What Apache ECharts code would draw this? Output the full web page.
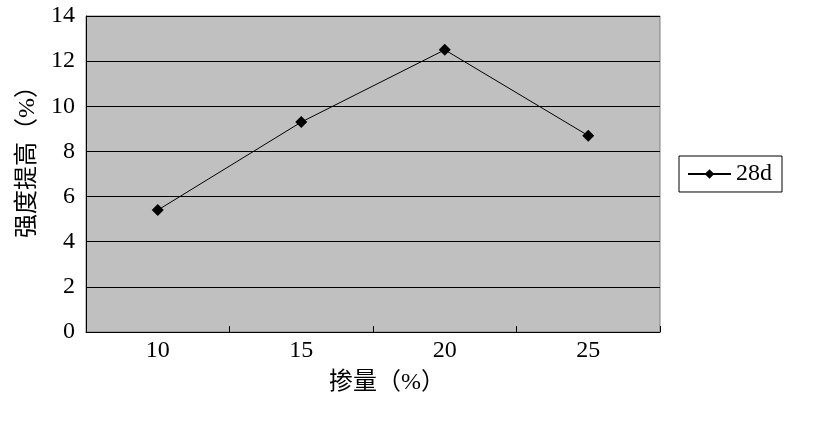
<!DOCTYPE html>
<html>
<head>
<meta charset="utf-8">
<script src="https://cdn.jsdelivr.net/npm/echarts@6/dist/echarts.min.js"></script>
<style>
html,body{margin:0;padding:0;background:#fff;}
#chart{width:819px;height:421px;}
</style>
</head>
<body>
<div id="chart"></div>
<script>
var categories = ['10', '15', '20', '25'];
var series28d = [5.4, 9.3, 12.5, 8.7];
var seriesName = '28d';
var xAxisName = '掺量（%）';
var yAxisName = '强度提高（%）';

var FONT = '"Liberation Serif", "Noto Sans CJK SC", serif';
var chart = echarts.init(document.getElementById('chart'));
chart.setOption({
  animation: false,
  backgroundColor: '#ffffff',
  grid: {
    left: 86, right: 159, top: 16, bottom: 89,
    show: true, backgroundColor: '#c0c0c0', borderColor: '#808080', borderWidth: 1
  },
  legend: {
    data: [seriesName],
    right: 37, top: 156,
    orient: 'vertical',
    borderColor: '#000', borderWidth: 1,
    padding: [6, 10, 6, 8],
    itemWidth: 43, itemHeight: 12, itemGap: 0,
    textStyle: { fontFamily: FONT, fontSize: 24, color: '#000' }
  },
  xAxis: {
    type: 'category',
    data: categories,
    boundaryGap: true,
    name: xAxisName,
    nameLocation: 'middle',
    nameGap: 39,
    nameTextStyle: { fontFamily: FONT, fontSize: 24, color: '#000', padding: [0, 0, 0, 28] },
    axisLine: { lineStyle: { color: '#000', width: 1 } },
    axisTick: { show: true, inside: true, length: 6, lineStyle: { color: '#000' } },
    axisLabel: { fontFamily: FONT, fontSize: 24, color: '#000', margin: 7 },
    splitLine: { show: false }
  },
  yAxis: {
    type: 'value',
    min: 0, max: 14, interval: 2,
    name: yAxisName,
    nameLocation: 'middle',
    nameGap: 46,
    nameRotate: 90,
    nameTextStyle: { fontFamily: FONT, fontSize: 24, color: '#000', padding: [0, 0, 0, 36] },
    axisLine: { show: true, lineStyle: { color: '#000', width: 1 } },
    axisTick: { show: false },
    axisLabel: { fontFamily: FONT, fontSize: 24, color: '#000', margin: 11 },
    splitLine: { show: true, lineStyle: { color: '#000', width: 1 } }
  },
  series: [{
    name: seriesName,
    type: 'line',
    data: series28d,
    symbol: 'diamond',
    symbolSize: 12,
    itemStyle: { color: '#000' },
    lineStyle: { color: '#000', width: 1 }
  }]
});
</script>
</body>
</html>
